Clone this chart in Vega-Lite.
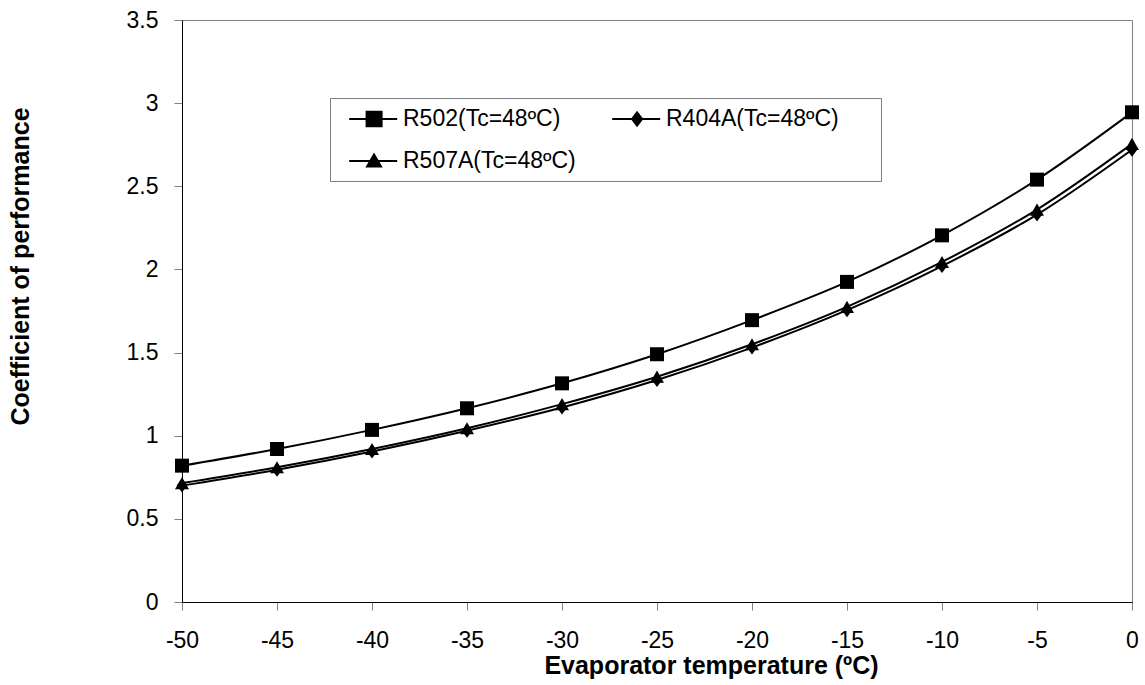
{
  "$schema": "https://vega.github.io/schema/vega-lite/v6.json",
  "width": 950,
  "height": 582,
  "autosize": {"type": "none"},
  "padding": {"left": 182, "top": 20, "right": 13, "bottom": 83},
  "background": "white",
  "config": {
    "view": {"stroke": "#808080", "strokeWidth": 1},
    "font": "Liberation Sans",
    "axis": {
      "grid": false,
      "domainColor": "black",
      "domainWidth": 1,
      "tickColor": "#808080",
      "tickSize": 8,
      "labelFont": "Liberation Sans",
      "labelFontSize": 23,
      "labelColor": "black",
      "titleFont": "Liberation Sans",
      "titleFontSize": 25,
      "titleFontWeight": "bold",
      "titleColor": "black"
    }
  },
  "data": {
    "values": [
      {"t": -50, "series": "R502(Tc=48ºC)", "cop": 0.82},
      {"t": -45, "series": "R502(Tc=48ºC)", "cop": 0.92},
      {"t": -40, "series": "R502(Tc=48ºC)", "cop": 1.035},
      {"t": -35, "series": "R502(Tc=48ºC)", "cop": 1.165},
      {"t": -30, "series": "R502(Tc=48ºC)", "cop": 1.315},
      {"t": -25, "series": "R502(Tc=48ºC)", "cop": 1.49},
      {"t": -20, "series": "R502(Tc=48ºC)", "cop": 1.695},
      {"t": -15, "series": "R502(Tc=48ºC)", "cop": 1.925},
      {"t": -10, "series": "R502(Tc=48ºC)", "cop": 2.205},
      {"t": -5, "series": "R502(Tc=48ºC)", "cop": 2.54},
      {"t": 0, "series": "R502(Tc=48ºC)", "cop": 2.945},
      {"t": -50, "series": "R404A(Tc=48ºC)", "cop": 0.70},
      {"t": -45, "series": "R404A(Tc=48ºC)", "cop": 0.795},
      {"t": -40, "series": "R404A(Tc=48ºC)", "cop": 0.905},
      {"t": -35, "series": "R404A(Tc=48ºC)", "cop": 1.03},
      {"t": -30, "series": "R404A(Tc=48ºC)", "cop": 1.17},
      {"t": -25, "series": "R404A(Tc=48ºC)", "cop": 1.335},
      {"t": -20, "series": "R404A(Tc=48ºC)", "cop": 1.53},
      {"t": -15, "series": "R404A(Tc=48ºC)", "cop": 1.755},
      {"t": -10, "series": "R404A(Tc=48ºC)", "cop": 2.02},
      {"t": -5, "series": "R404A(Tc=48ºC)", "cop": 2.33},
      {"t": 0, "series": "R404A(Tc=48ºC)", "cop": 2.72},
      {"t": -50, "series": "R507A(Tc=48ºC)", "cop": 0.715},
      {"t": -45, "series": "R507A(Tc=48ºC)", "cop": 0.81},
      {"t": -40, "series": "R507A(Tc=48ºC)", "cop": 0.92},
      {"t": -35, "series": "R507A(Tc=48ºC)", "cop": 1.045},
      {"t": -30, "series": "R507A(Tc=48ºC)", "cop": 1.19},
      {"t": -25, "series": "R507A(Tc=48ºC)", "cop": 1.355},
      {"t": -20, "series": "R507A(Tc=48ºC)", "cop": 1.55},
      {"t": -15, "series": "R507A(Tc=48ºC)", "cop": 1.775},
      {"t": -10, "series": "R507A(Tc=48ºC)", "cop": 2.045},
      {"t": -5, "series": "R507A(Tc=48ºC)", "cop": 2.36},
      {"t": 0, "series": "R507A(Tc=48ºC)", "cop": 2.755}
    ]
  },
  "encoding": {
    "x": {
      "field": "t",
      "type": "quantitative",
      "scale": {"domain": [-50, 0], "nice": false, "zero": false},
      "axis": {
        "values": [-50, -45, -40, -35, -30, -25, -20, -15, -10, -5, 0],
        "labelExpr": "'' + datum.value",
        "labelPadding": 19,
        "labelFlush": false,
        "title": "Evaporator temperature (ºC)",
        "titleAnchor": null,
        "titleAlign": "center",
        "titleBaseline": "alphabetic",
        "titleX": 529,
        "titleY": 71
      }
    },
    "y": {
      "field": "cop",
      "type": "quantitative",
      "scale": {"domain": [0, 3.5], "nice": false},
      "axis": {
        "values": [0, 0.5, 1, 1.5, 2, 2.5, 3, 3.5],
        "format": "~g",
        "labelPadding": 16,
        "labelFlush": false,
        "title": "Coefficient of performance",
        "titleAngle": 270,
        "titleAlign": "center",
        "titleBaseline": "alphabetic",
        "titleX": -154,
        "titleY": 246
      }
    }
  },
  "layer": [
    {
      "mark": {"type": "line", "interpolate": "monotone", "color": "black", "strokeWidth": 2},
      "encoding": {"detail": {"field": "series"}}
    },
    {
      "transform": [{"filter": {"field": "series", "equal": "R502(Tc=48ºC)"}}],
      "mark": {"type": "point", "shape": "square", "filled": true, "opacity": 1, "color": "black", "size": 196}
    },
    {
      "transform": [{"filter": {"field": "series", "equal": "R404A(Tc=48ºC)"}}],
      "mark": {"type": "point", "shape": "M0,-1L0.75,0L0,1L-0.75,0Z", "filled": true, "opacity": 1, "color": "black", "size": 196}
    },
    {
      "transform": [{"filter": {"field": "series", "equal": "R507A(Tc=48ºC)"}}],
      "mark": {"type": "point", "shape": "triangle-up", "filled": true, "opacity": 1, "color": "black", "size": 196}
    },
    {
      "mark": {"type": "point", "filled": true, "color": "black", "stroke": "black", "strokeWidth": 2, "opacity": 0, "size": 1},
      "encoding": {
        "shape": {
          "field": "series",
          "type": "nominal",
          "scale": {
            "domain": ["R502(Tc=48ºC)", "R404A(Tc=48ºC)", "R507A(Tc=48ºC)"],
            "range": [
              "M-0.15,0H3.85M1.3,-0.6H2.55V0.6H1.3Z",
              "M-0.15,0H3.85M1.92,-0.55L2.34,0L1.92,0.55L1.5,0ZM21.2,0",
              "M-0.15,0H3.85M1.92,-0.55L2.5,0.45H1.34Z"
            ]
          },
          "legend": {
            "title": null,
            "orient": "none",
            "direction": "horizontal",
            "legendX": 148,
            "legendY": 78,
            "columns": 2,
            "padding": 8,
            "rowPadding": 17,
            "columnPadding": 25,
            "strokeColor": "#808080",
            "fillColor": "white",
            "labelFont": "Liberation Sans",
            "labelFontSize": 23,
            "labelColor": "black",
            "labelOffset": 39,
            "labelLimit": 500,
            "symbolSize": 576,
            "symbolOpacity": 1,
            "symbolStrokeWidth": 2
          }
        }
      }
    }
  ]
}
